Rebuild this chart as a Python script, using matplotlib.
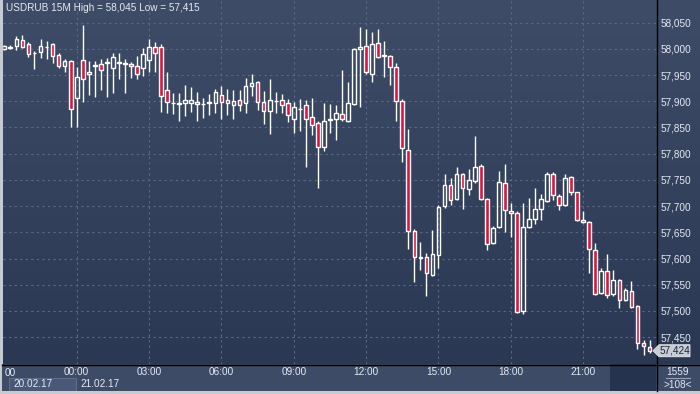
import matplotlib
matplotlib.use("Agg")
import matplotlib.pyplot as plt
import numpy as np
from matplotlib.colors import LinearSegmentedColormap
from matplotlib.lines import Line2D
from matplotlib.patches import Rectangle, Polygon

# USDRUB 15M candles, 20.02.17 21:00 .. 21.02.17 23:45
opens = [58000, 58002, 58005, 58017, 58009, 57993, 57995, 58003, 58009, 57988,
         57967, 57977, 57906, 57978, 57953, 57967, 57971, 57973, 57963, 57974,
         57973, 57971, 57968, 57963, 57979, 58004, 58004, 57921, 57897, 57895,
         57897, 57897, 57898, 57895, 57897, 57896, 57912, 57902, 57893, 57902,
         57897, 57930, 57937, 57898, 57882, 57900, 57902, 57897, 57867, 57886,
         57892, 57870, 57859, 57812, 57865, 57866, 57876, 57863, 57894, 58000,
         58006, 57953, 58011, 57987, 57986, 57965, 57901, 57807, 57653, 57601,
         57602, 57569, 57606, 57700, 57740, 57713, 57761, 57732, 57747, 57777,
         57713, 57629, 57661, 57744, 57690, 57686, 57500, 57661, 57676, 57694,
         57710, 57761, 57719, 57702, 57755, 57726, 57673, 57670, 57617, 57535,
         57577, 57532, 57559, 57521, 57538, 57509, 57439, 57432]
highs = [58008, 58007, 58025, 58027, 58014, 57996, 58019, 58016, 58011, 57992,
         57980, 57979, 57966, 58045, 57976, 57976, 57981, 57982, 57992, 57993,
         57980, 57975, 57986, 58001, 58019, 58013, 58009, 57955, 57915, 57916,
         57932, 57927, 57918, 57906, 57913, 57923, 57930, 57923, 57921, 57921,
         57944, 57953, 57939, 57920, 57943, 57918, 57914, 57904, 57899, 57904,
         57902, 57906, 57862, 57897, 57894, 57893, 57960, 57936, 58002, 58042,
         58038, 58032, 58038, 58015, 57988, 57974, 57904, 57847, 57656, 57632,
         57610, 57654, 57702, 57761, 57754, 57774, 57764, 57770, 57834, 57780,
         57715, 57662, 57767, 57780, 57705, 57691, 57705, 57716, 57734, 57724,
         57765, 57766, 57723, 57761, 57757, 57727, 57690, 57672, 57630, 57581,
         57609, 57578, 57561, 57544, 57557, 57511, 57445, 57445]
lows = [57998, 57999, 57997, 58001, 57984, 57961, 57983, 57980, 57974, 57963,
        57955, 57850, 57851, 57899, 57912, 57909, 57922, 57909, 57915, 57942,
        57915, 57944, 57943, 57948, 57955, 57955, 57880, 57877, 57876, 57863,
        57871, 57880, 57862, 57869, 57874, 57878, 57866, 57873, 57866, 57882,
        57878, 57910, 57883, 57857, 57838, 57878, 57877, 57861, 57840, 57843,
        57775, 57836, 57734, 57806, 57840, 57826, 57863, 57861, 57892, 57890,
        57953, 57937, 57983, 57947, 57931, 57863, 57785, 57618, 57556, 57578,
        57529, 57567, 57581, 57696, 57702, 57711, 57694, 57721, 57745, 57712,
        57616, 57627, 57659, 57651, 57642, 57496, 57495, 57659, 57665, 57673,
        57708, 57712, 57692, 57700, 57722, 57671, 57667, 57573, 57531, 57533,
        57525, 57528, 57506, 57518, 57506, 57428, 57415, 57420]
closes = [58006, 58003, 58018, 58004, 57990, 57992, 58005, 58004, 57986, 57967,
          57977, 57885, 57946, 57943, 57956, 57970, 57960, 57975, 57984, 57975,
          57971, 57967, 57952, 57990, 58003, 57993, 57911, 57899, 57896, 57896,
          57902, 57902, 57894, 57895, 57899, 57917, 57899, 57897, 57900, 57893,
          57929, 57935, 57899, 57882, 57902, 57901, 57893, 57873, 57889, 57885,
          57866, 57855, 57812, 57863, 57867, 57877, 57866, 57897, 58000, 58003,
          57955, 58009, 57985, 57988, 57966, 57900, 57810, 57653, 57602, 57603,
          57572, 57608, 57698, 57740, 57712, 57761, 57734, 57750, 57775, 57714,
          57627, 57659, 57746, 57692, 57687, 57498, 57661, 57675, 57694, 57713,
          57761, 57721, 57703, 57753, 57726, 57673, 57669, 57619, 57533, 57576,
          57531, 57559, 57520, 57540, 57508, 57439, 57434, 57424]

hour_index = [12, 24, 36, 48, 60, 72, 84, 96]
hour_labels = ["00:00", "03:00", "06:00", "09:00", "12:00", "15:00", "18:00", "21:00"]
price_ticks = list(range(57450, 58051, 50))
title = "USDRUB 15M High = 58,045 Low = 57,415"

W, H = 700, 394
BG_TOP, BG_BOT = "#3e4c68", "#2b3854"
RED = "#e3123d"
TXT = "#e6eaf2"
FONT = "Liberation Sans"
FS = 7.2

fig = plt.figure(figsize=(7, 3.94), dpi=100)
fig.patch.set_facecolor("#c5cad3")


def box(x0, y0, x1, y1):
    return [x0 / W, 1 - y1 / H, (x1 - x0) / W, (y1 - y0) / H]


def fx(x):
    return x / W


def fy(y):
    return 1 - y / H


grad = LinearSegmentedColormap.from_list("bg", [BG_TOP, BG_BOT])


def gradient(ax):
    ax.imshow(np.linspace(0, 1, 256).reshape(-1, 1), cmap=grad, aspect="auto",
              extent=[0, 1, 0, 1], transform=ax.transAxes, zorder=0)


# right price panel
rp = fig.add_axes(box(656, 0, 700, 364))
rp.axis("off")
gradient(rp)

# bottom time panel
bp = fig.add_axes(box(2, 364, 700, 391))
bp.set_xlim(2, 700)
bp.set_ylim(391, 364)
bp.axis("off")
bp.add_patch(Rectangle((2, 364), 698, 27, facecolor="#3d4b67", edgecolor="none"))
bp.add_patch(Rectangle((610, 364), 46, 27, facecolor="#26334f", edgecolor="none"))
bp.add_patch(Rectangle((9, 378), 67, 13, facecolor="#4a5877", edgecolor="#5f6d8b", lw=0.8))

# main chart
ax = fig.add_axes(box(3, 0, 656, 364))
ax.set_zorder(5)
gradient(ax)

x = np.arange(len(opens))
o = np.array(opens)
c = np.array(closes)
hi = np.array(highs)
lo = np.array(lows)
top = np.maximum(o, c)
bot = np.minimum(o, c)
up = c >= o

ax.vlines(x, top, hi, color="white", lw=1.0, zorder=3)
ax.vlines(x, lo, bot, color="white", lw=1.0, zorder=3)
ax.bar(x[up], (top - bot)[up], bottom=bot[up], width=0.62,
       facecolor="none", edgecolor="white", lw=1.0, zorder=4)
ax.bar(x[~up], (top - bot)[~up], bottom=bot[~up], width=0.62,
       facecolor=RED, edgecolor="white", lw=1.0, zorder=4)

ax.set_xlim(-0.22, 108.07)
ax.set_ylim(57398.7, 58093.3)

for p in price_ticks:
    ax.axhline(p, color="#5a6989", lw=0.8, ls=(0, (2, 3)), zorder=1)
for i in hour_index:
    ax.axvline(i, color="#5a6989", lw=0.8, ls=(0, (2, 3)), zorder=1)

ax.yaxis.tick_right()
ax.set_yticks(price_ticks)
ax.set_yticklabels([f"{p:,}" for p in price_ticks])
ax.set_xticks(hour_index)
ax.set_xticklabels(hour_labels)
ax.tick_params(axis="both", length=0, colors=TXT, labelsize=FS)
ax.tick_params(axis="y", pad=3)
ax.tick_params(axis="x", pad=2.5)
for lab in ax.get_xticklabels() + ax.get_yticklabels():
    lab.set_fontfamily(FONT)
for s in ax.spines.values():
    s.set_visible(False)

ax.text(0.004, 0.992, title, transform=ax.transAxes, ha="left", va="top",
        color=TXT, fontsize=FS, family=FONT)

# separators
fig.add_artist(Line2D([fx(656.5), fx(656.5)], [fy(0), fy(391)], color="black", lw=1.0))
fig.add_artist(Line2D([fx(2), fx(700)], [fy(364.5), fy(364.5)], color="black", lw=1.0))

# bottom texts
fig.text(fx(5), fy(372.5), "00", color=TXT, fontsize=FS, family=FONT, va="center", ha="left")
fig.text(fx(13), fy(384), "20.02.17", color=TXT, fontsize=FS, family=FONT, va="center", ha="left")
fig.text(fx(80), fy(384), "21.02.17", color=TXT, fontsize=FS, family=FONT, va="center", ha="left")

# right-bottom counter
fig.text(fx(678), fy(372), "1559", color=TXT, fontsize=FS, family=FONT, va="center", ha="center", zorder=6)
fig.add_artist(Line2D([fx(666), fx(690)], [fy(377.5), fy(377.5)], color="#9aa3b5", lw=0.8))
fig.text(fx(678), fy(384.5), ">108<", color=TXT, fontsize=FS, family=FONT, va="center", ha="center", zorder=6)

# last price tag, placed at the last close
ty = fig.transFigure.inverted().transform(ax.transData.transform((0, closes[-1])))[1]
hh = 6 / H
tag = Polygon([(fx(653), ty), (fx(659), ty + hh), (fx(690), ty + hh),
               (fx(690), ty - hh), (fx(659), ty - hh)], closed=True,
              transform=fig.transFigure, facecolor="#c8ccd5", edgecolor="#e8ebf0", lw=0.6, zorder=10)
fig.add_artist(tag)
fig.text(fx(660), ty, f"{closes[-1]:,}", color="#1c2436", fontsize=FS, family=FONT,
         va="center", ha="left", zorder=11)

fig.savefig("out.png", dpi=100, facecolor=fig.get_facecolor())
